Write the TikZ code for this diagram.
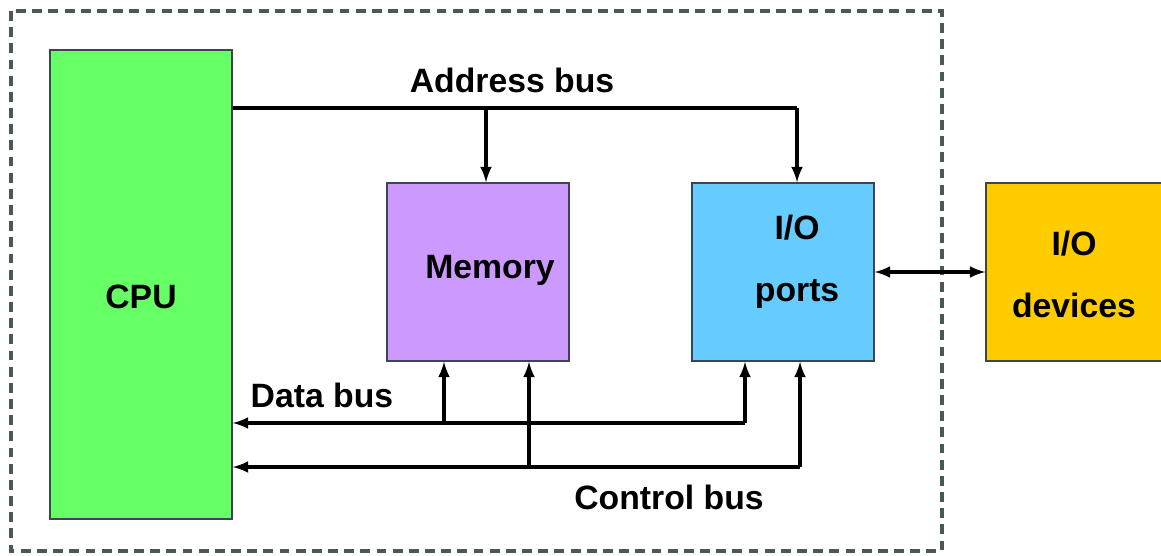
\documentclass[tikz,border=0pt]{standalone}
\usepackage{fontspec}
\setmainfont{Liberation Sans}
\definecolor{cpugreen}{HTML}{66FF66}
\definecolor{memviolet}{HTML}{CC99FF}
\definecolor{portblue}{HTML}{66CCFF}
\definecolor{devyellow}{HTML}{FFCC00}
\definecolor{boxedge}{HTML}{3C4650}
\definecolor{framegray}{HTML}{4A5858}
\begin{document}
\begin{tikzpicture}[
  x=0.025cm, y=-0.025cm,
  unit/.style={draw=boxedge, line width=1pt, inner sep=0pt,
               minimum width=4.55cm, minimum height=4.45cm},
  boxtext/.style={font=\bfseries\fontsize{24}{44}\selectfont, align=center},
  bus/.style={line width=2.7pt},
  arrow/.style={bus, -latex},
  lab/.style={font=\bfseries\fontsize{24}{29}\selectfont},
  frame/.style={draw=framegray, line width=2.3pt, dash pattern=on 7pt off 4.5pt},
  ]
\clip (0,0) rectangle (1161,556);

% ---- Computer boundary -----------------------------------------------------
\draw[frame] (11,11) rectangle (942,551);

% ---- Units -----------------------------------------------------------------
\node[unit, fill=cpugreen, minimum height=11.725cm,
      label={[boxtext, yshift=-9pt]center:CPU}] (cpu) at (141,284.5) {};
\node[unit, fill=memviolet,
      label={[boxtext, xshift=8.5pt, yshift=1pt]center:Memory}] (mem) at (478,272) {};
\node[unit, fill=portblue,
      label={[boxtext, xshift=10pt, yshift=7pt]center:I/O\\ports}] (io) at (783,272) {};
\node[unit, fill=devyellow, minimum width=4.4cm,
      label={[boxtext, yshift=-2pt]center:I/O\\devices}] (dev) at (1074,272) {};

% ---- Address bus -----------------------------------------------------------
\coordinate (a1) at (486,108);
\coordinate (a2) at (797,108);
\draw[bus] (cpu.east |- a1) -- (a2);
\draw[arrow] (a1) -- (a1 |- mem.north);
\draw[arrow] (a2) -- (a2 |- io.north);
\node[lab] (alab) at (512,80) {Address bus};

% ---- Data bus --------------------------------------------------------------
\coordinate (d1) at (444,423);
\coordinate (d2) at (745,423);
\draw[arrow] (d2) -- (cpu.east |- d2);
\draw[arrow] (d1) -- (d1 |- mem.south);
\draw[arrow] (d2) -- (d2 |- io.south);
\node[lab] (dlab) at (322,395) {Data bus};

% ---- Control bus -----------------------------------------------------------
\coordinate (c1) at (529,467);
\coordinate (c2) at (800,467);
\draw[arrow] (c2) -- (cpu.east |- c2);
\draw[arrow] (c1) -- (c1 |- mem.south);
\draw[arrow] (c2) -- (c2 |- io.south);
\node[lab] (clab) at (669,497) {Control bus};

% ---- Ports to devices ------------------------------------------------------
\draw[bus, latex-latex] (io.east) -- (dev.west);

\end{tikzpicture}
\end{document}
